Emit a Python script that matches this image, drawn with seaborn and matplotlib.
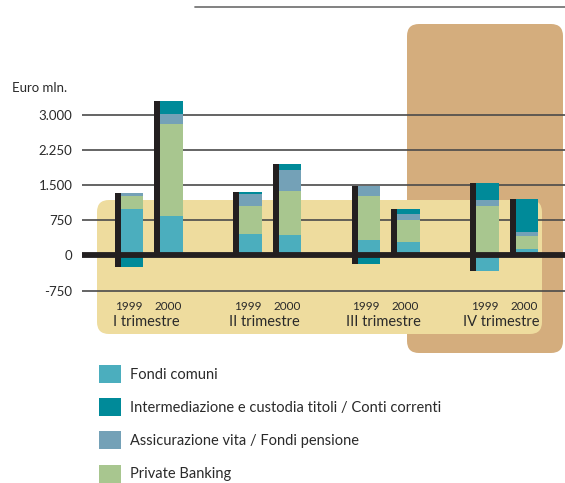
import numpy as np
import matplotlib
matplotlib.use("Agg")
import matplotlib.pyplot as plt
from matplotlib.patches import FancyBboxPatch, Patch
from matplotlib.lines import Line2D
import matplotlib.transforms as mtransforms
import seaborn as sns

# data (Euro mln.)
quarters = ["I trimestre", "II trimestre", "III trimestre", "IV trimestre"]
years = ["1999", "2000", "1999", "2000", "1999", "2000", "1999", "2000"]
fondi_comuni = [1000, 850, 460, 440, 330, 290, -320, 130]
private_banking = [257, 1950, 600, 940, 927, 470, 1060, 280]
assicurazione = [80, 215, 242, 450, 214, 128, 128, 86]
intermediazione = [-235, 275, 57, 128, -180, 107, 364, 706]
y_ticks = [-750, 0, 750, 1500, 2250, 3000]

series_names = ["Fondi comuni",
                "Intermediazione e custodia titoli / Conti correnti",
                "Assicurazione vita / Fondi pensione",
                "Private Banking"]
colors = {"Fondi comuni": "#4BAEBE",
          "Intermediazione e custodia titoli / Conti correnti": "#008A99",
          "Assicurazione vita / Fondi pensione": "#74A1B7",
          "Private Banking": "#A8C68F"}

# stacking order from the baseline upward
stack = [("Fondi comuni", fondi_comuni),
         ("Private Banking", private_banking),
         ("Assicurazione vita / Fondi pensione", assicurazione),
         ("Intermediazione e custodia titoli / Conti correnti", intermediazione)]

sns.set_style("white")
plt.rcParams["font.family"] = ["Lato", "DejaVu Sans"]
txt = "#2a2a2a"

W, H = 565, 483
fig = plt.figure(figsize=(W / 100, H / 100), dpi=100)

def px_box(x0, y0, x1, y1, color, z):
    # rounded rectangles in pixel positions (inches transform keeps corners round)
    r = 0.12
    p = FancyBboxPatch((x0 / 100 + r, (H - y1) / 100 + r),
                       (x1 - x0) / 100 - 2 * r, (y1 - y0) / 100 - 2 * r,
                       boxstyle=f"round,pad={r}", transform=fig.dpi_scale_trans,
                       facecolor=color, edgecolor="none", zorder=z)
    fig.patches.append(p)

px_box(407, 24, 563, 353, "#D4AD7D", -3)
px_box(97, 200, 542, 334, "#EEDC9E", -2)

ax_l, ax_r, ax_t, ax_b = 82, 565, 95, 300
ax = fig.add_axes([ax_l / W, 1 - ax_b / H, (ax_r - ax_l) / W, (ax_b - ax_t) / H])
ax.set_facecolor("none")

# bar positions: pairs per quarter, gap between quarters
pos = np.array([q * 3 + k for q in range(4) for k in range(2)], dtype=float)
bw = 0.58

vals = np.array([v for _, v in stack], dtype=float)
pos_part = np.clip(vals, 0, None).cumsum(axis=0)
neg_part = np.clip(vals, None, 0).cumsum(axis=0)

for i in range(len(stack) - 1, -1, -1):
    name = stack[i][0]
    for part in (pos_part, neg_part):
        sns.barplot(x=pos, y=part[i], native_scale=True, width=bw,
                    color=colors[name], linewidth=0, saturation=1,
                    ax=ax, zorder=3)

# black stems on the left of each bar
top = pos_part[-1]
bot = neg_part[-1]
ax.bar(pos - bw / 2 - 0.07, top - bot, bottom=bot, width=0.16,
       color="#231F20", linewidth=0, zorder=4)

ax.axhline(0, color="#231F20", lw=4.2, zorder=5)

units_per_px = 21.3
zero_px = 255.5
ax.set_ylim(-(ax_b - zero_px) * units_per_px, (zero_px - ax_t) * units_per_px)
ax.set_xlim((ax_l - 132) / 39.5, (ax_r - 132) / 39.5)

ax.set_yticks(y_ticks)
ax.set_yticklabels([f"{v:,}".replace(",", ".") for v in y_ticks],
                   fontsize=9.5, color=txt)
ax.tick_params(axis="y", length=0, pad=7)
ax.set_xticks([])
ax.set_xlabel("")
ax.set_ylabel("")
ax.yaxis.grid(True, color="#4a4a4a", lw=1.2, zorder=1)
ax.set_axisbelow(True)
sns.despine(ax=ax, left=True, bottom=True)

trans = mtransforms.blended_transform_factory(ax.transData, ax.transAxes)
for p, y in zip(pos, years):
    ax.text(p - 0.08, -0.03, y, transform=trans, ha="center", va="center",
            fontsize=8.5, color=txt)
for q, name in enumerate(quarters):
    ax.text(pos[2 * q] + 0.36, -0.108, name, transform=trans, ha="center",
            va="center", fontsize=10.5, color=txt)

fig.text(12 / W, 1 - 88 / H, "Euro mln.", fontsize=9.5, color=txt,
         ha="left", va="center")

fig.add_artist(Line2D([195 / W, 1], [1 - 7 / H, 1 - 7 / H], color="#777777",
                      lw=1.3, transform=fig.transFigure))

handles = [Patch(facecolor=colors[n], edgecolor="none") for n in series_names]
fig.legend(handles, series_names, loc="upper left",
           bbox_to_anchor=(99 / W, 1 - 365 / H), frameon=False,
           fontsize=10.5, handlelength=1.5, handleheight=1.5,
           labelspacing=1.06, handletextpad=0.6, borderpad=0,
           borderaxespad=0, labelcolor=txt)

fig.savefig("out.png", dpi=100)
